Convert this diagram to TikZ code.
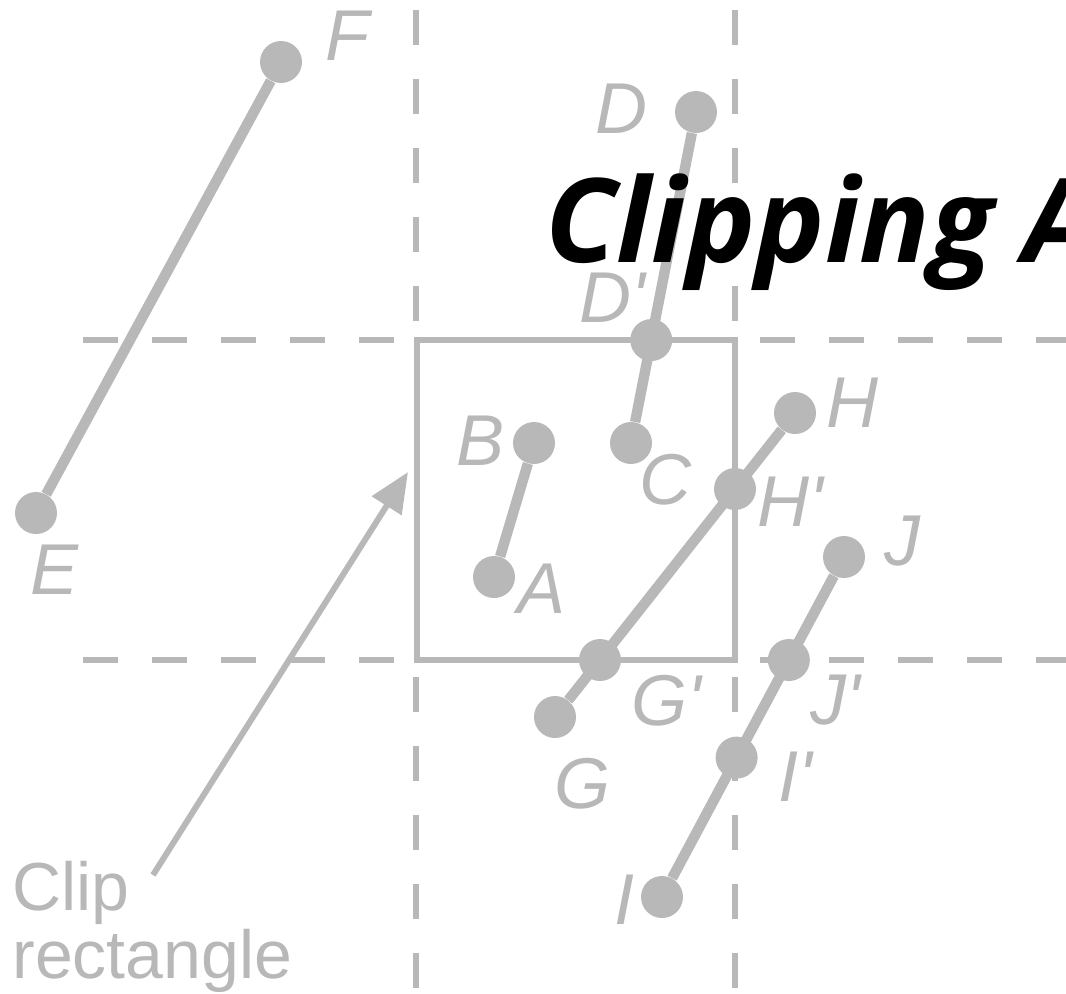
\documentclass[tikz,border=0pt]{standalone}
\usepackage{fontspec}
\setmainfont{Liberation Sans}
\newfontfamily\titlefont{Open Sans}
\usepackage{tikz}
\usetikzlibrary{arrows.meta,calc}
\definecolor{ink}{HTML}{B8B8B8}

\begin{document}
\begin{tikzpicture}[x=0.5pt,y=-0.5pt,
  dot/.style={circle,fill=ink,inner sep=0pt,minimum size=21pt},
  seg/.style={draw=ink,line width=5.2pt},
  grid/.style={draw=ink,line width=3pt,dash pattern=on 17.5pt off 17pt},
  win/.style={draw=ink,line width=2.6pt},
  lbl/.style={text=ink,inner sep=0pt,font=\fontsize{36}{36}\selectfont\itshape},
  arr/.style={-{Triangle[length=20pt,width=17pt]},draw=ink,line width=3pt}
]
\useasboundingbox (0,0) rectangle (1066,993);
% dashed extensions of the window edges
\draw[grid] (83,340) -- (417,340);
\draw[grid] (760,340) -- (1066,340);
\draw[grid] (83,660) -- (417,660);
\draw[grid] (760,660) -- (1066,660);
\draw[grid] (416,10) -- (416,340);
\draw[grid] (735,10) -- (735,340);
\draw[grid] (416,677) -- (416,993);
\draw[grid] (735,677) -- (735,993);
% clip window
\coordinate (win-nw) at (417,340);
\coordinate (win-se) at (735,660);
\draw[win] (win-nw) rectangle (win-se);

% end points
\node[dot] (E) at (36,513) {};
\node[dot] (F) at (281,62) {};
\node[dot] (A) at (494,577) {};
\node[dot] (B) at (534,443) {};
\node[dot] (C) at (631,443) {};
\node[dot] (D) at (696,112) {};
\node[dot] (G) at (555,717) {};
\node[dot] (H) at (795,413) {};
\node[dot] (I) at (662,897) {};
\node[dot] (J) at (844,557) {};
% clipped points
\node[dot] (Dp) at ($(D)!0.689!(C)$) {};
\node[dot] (Hp) at ($(H)!0.25!(G)$) {};
\node[dot] (Gp) at ($(H)!0.8125!(G)$) {};
\node[dot] (Jp) at ($(J)!0.303!(I)$) {};
\node[dot] (Ip) at ($(J)!0.59!(I)$) {};

\draw[seg] (E) -- (F);
\draw[seg] (A) -- (B);
\draw[seg] (C) -- (D);
\draw[seg] (G) -- (H);
\draw[seg] (I) -- (J);

% labels
\node[lbl] (lF) at (347,36) {F};
\node[lbl] (lE) at (55,570) {E};
\node[lbl] (lD) at (621,109) {D};
\node[lbl] (lDp) at (612,298) {D\textquotesingle};
\node[lbl] (lC) at (665,480) {C};
\node[lbl] (lB) at (481,441) {B};
\node[lbl] (lA) at (542,589) {A};
\node[lbl] (lH) at (852,403) {H};
\node[lbl] (lHp) at (790,502) {H\textquotesingle};
\node[lbl] (lGp) at (666,701) {G\textquotesingle};
\node[lbl] (lG) at (582,784) {G};
\node[lbl] (lJ) at (902,541) {J};
\node[lbl] (lJp) at (835,700) {J\textquotesingle};
\node[lbl] (lIp) at (795,777) {I\textquotesingle};
\node[lbl] (lI) at (624,900) {I};

% pointer to the window
\node[text=ink,inner sep=0pt,anchor=base west,align=left,
      font=\fontsize{34}{34}\selectfont] (clip) at (12,978) {Clip\\rectangle};
\coordinate (tail) at (153,875);
\coordinate (tip) at (408,472);
\draw[arr] (tail) -- (tip);

\node[anchor=base west,inner sep=0pt,
      font=\titlefont\fontsize{58.4}{60}\bfseries\itshape\selectfont] (title) at (545,262) {Clipping A};
\end{tikzpicture}
\end{document}
